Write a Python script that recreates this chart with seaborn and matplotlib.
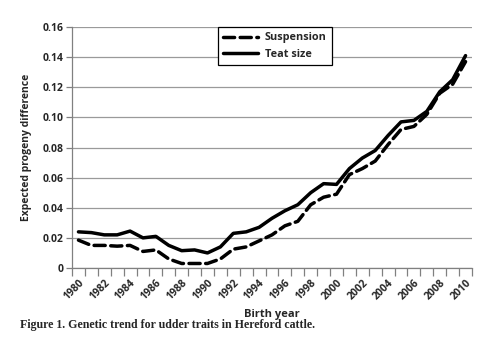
import numpy as np
import pandas as pd
import matplotlib
matplotlib.use("Agg")
import matplotlib.pyplot as plt
import seaborn as sns
from matplotlib.ticker import FixedLocator

years = list(range(1980, 2011))
suspension = [0.0185, 0.015, 0.015, 0.0145, 0.015, 0.011, 0.012, 0.006, 0.003, 0.003,
              0.003, 0.006, 0.0125, 0.014, 0.018, 0.022, 0.028, 0.031, 0.042, 0.047,
              0.049, 0.062, 0.066, 0.071, 0.082, 0.092, 0.094, 0.102, 0.116, 0.122, 0.137]
teat_size = [0.024, 0.0235, 0.022, 0.022, 0.0245, 0.020, 0.021, 0.015, 0.0115, 0.012,
             0.010, 0.014, 0.023, 0.024, 0.027, 0.033, 0.038, 0.042, 0.050, 0.056,
             0.0555, 0.066, 0.073, 0.078, 0.088, 0.097, 0.098, 0.104, 0.117, 0.125, 0.141]
series_names = ["Suspension", "Teat size"]
y_ticks = [0, 0.02, 0.04, 0.06, 0.08, 0.10, 0.12, 0.14, 0.16]
y_tick_labels = ["0", "0.02", "0.04", "0.06", "0.08", "0.10", "0.12", "0.14", "0.16"]

df = pd.DataFrame({
    "year": years * 2,
    "epd": suspension + teat_size,
    "trait": [series_names[0]] * len(years) + [series_names[1]] * len(years),
})

sns.set_style("white")
plt.rcParams["font.family"] = ["Open Sans", "DejaVu Sans"]

fig = plt.figure(figsize=(4.88, 3.5), dpi=100)
ax = fig.add_axes([72 / 488, 1 - 268 / 350, 400 / 488, 241 / 350])

sns.lineplot(data=df, x="year", y="epd", hue="trait", style="trait",
             palette={"Suspension": "black", "Teat size": "black"},
             dashes={"Suspension": (3.2, 1.6), "Teat size": ""},
             linewidth=2.5, ax=ax, legend=False)
for line in ax.get_lines():
    line.set_dash_capstyle("round")
    line.set_solid_capstyle("round")
    line.set_solid_joinstyle("round")

ax.set_xlim(years[0] - 0.5, years[-1] + 0.5)
ax.set_ylim(0, 0.16)

# y axis: grey grid and short outward ticks
ax.set_yticks(y_ticks)
ax.set_yticklabels(y_tick_labels, fontsize=7.5, fontweight="bold")
ax.yaxis.grid(True, color="#9a9a9a", linewidth=0.9)
ax.tick_params(axis="y", direction="out", length=4, width=0.9, color="#808080",
               left=True, pad=2)

# x axis: tick marks between categories, labels on even years
ax.xaxis.set_minor_locator(FixedLocator([y - 0.5 for y in years] + [years[-1] + 0.5]))
ax.set_xticks([y for y in years if y % 2 == 0])
ax.set_xticklabels([str(y) for y in years if y % 2 == 0], fontsize=7.5,
                   fontweight="bold", rotation=45, ha="right",
                   rotation_mode="anchor")
ax.tick_params(axis="x", which="major", length=0, pad=7)
ax.tick_params(axis="x", which="minor", direction="out", length=6, width=0.9,
               color="#808080", bottom=True)

for side in ["top", "right"]:
    ax.spines[side].set_visible(False)
for side in ["left", "bottom"]:
    ax.spines[side].set_color("#808080")
    ax.spines[side].set_linewidth(0.9)

ax.set_xlabel("Birth year", fontsize=8, fontweight="bold", labelpad=5)
ax.set_ylabel("Expected progeny difference", fontsize=7.5, fontweight="bold",
              labelpad=8)

handles = ax.get_lines()[:2]
leg = ax.legend(handles, series_names, loc="upper left",
                bbox_to_anchor=((218 - 72) / 400, 1.0), frameon=True,
                fancybox=False, edgecolor="black", framealpha=1,
                prop={"size": 7.8, "weight": "bold"}, handlelength=3.2,
                borderpad=0.5, labelspacing=0.5, handletextpad=0.6,
                borderaxespad=0)
leg.get_frame().set_linewidth(0.9)

fig.text(20 / 488, 1 - 325 / 350,
         "Figure 1. Genetic trend for udder traits in Hereford cattle.",
         fontsize=8.6, fontweight="bold", family=["Liberation Serif", "DejaVu Serif"],
         va="center", ha="left")

fig.savefig("out.png", dpi=100, facecolor="white")
